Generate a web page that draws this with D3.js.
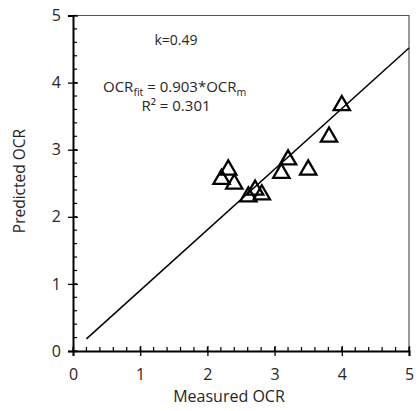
<!DOCTYPE html>
<html>
<head>
<meta charset="utf-8">
<script src="https://cdn.jsdelivr.net/npm/d3@7"></script>
<style>
  body { margin: 0; background: #fff; }
  text { font-family: "Open Sans", "Noto Sans", sans-serif; fill: #262626; }
</style>
</head>
<body>
<div id="chart"></div>
<script>
// measured vs predicted OCR
let measured  = [4.00, 3.81, 3.20, 3.10, 3.50, 2.31, 2.21, 2.40, 2.71, 2.81, 2.61];
let predicted = [3.66, 3.19, 2.85, 2.65, 2.70, 2.70, 2.56, 2.49, 2.40, 2.33, 2.30];
let ticks = [0, 1, 2, 3, 4, 5];
let slope = 0.903;
let fitRange = [0.2, 5];

let width = 416, height = 411;
let svg = d3.select('#chart').append('svg')
    .attr('width', width)
    .attr('height', height);

let x = d3.scaleLinear().domain([0, 5]).range([73, 409]);
let y = d3.scaleLinear().domain([0, 5]).range([351, 15.5]);

// frame (top / right)
svg.append('path')
    .attr('d', 'M' + x(0) + ',' + y(5) + 'H' + x(5) + 'V' + y(0))
    .attr('fill', 'none')
    .attr('stroke', '#555')
    .attr('stroke-width', 1.2);

// minor ticks, inward only
let minor = d3.range(0, 5.01, 0.2);
svg.append('g').selectAll('line').data(minor).enter().append('line')
    .attr('x1', d => x(d)).attr('x2', d => x(d))
    .attr('y1', y(0)).attr('y2', y(0) - 4)
    .attr('stroke', '#000').attr('stroke-width', 1.2);
svg.append('g').selectAll('line').data(minor).enter().append('line')
    .attr('y1', d => y(d)).attr('y2', d => y(d))
    .attr('x1', x(0)).attr('x2', x(0) + 4)
    .attr('stroke', '#000').attr('stroke-width', 1.2);

// main axes
let xAxis = d3.axisBottom(x).tickValues(ticks).tickSize(5).tickFormat(d3.format('d'));
let yAxis = d3.axisLeft(y).tickValues(ticks).tickSize(5).tickFormat(d3.format('d'));

let gx = svg.append('g').attr('transform', 'translate(0,' + y(0) + ')').call(xAxis);
let gy = svg.append('g').attr('transform', 'translate(' + x(0) + ',0)').call(yAxis);

[gx, gy].forEach(g => {
    g.select('.domain').attr('stroke', '#000').attr('stroke-width', 2);
    g.selectAll('.tick text').style('font-size', '16px').attr('fill', '#262626');
});
// major ticks cross the axis
gx.selectAll('.tick line').attr('y1', -5).attr('y2', 5).attr('stroke', '#000').attr('stroke-width', 1.3);
gx.selectAll('.tick text').attr('y', 18);
gy.selectAll('.tick line').attr('x1', 5).attr('x2', -5).attr('stroke', '#000').attr('stroke-width', 1.3);
gy.selectAll('.tick text').attr('x', -12);

// fit line
svg.append('line')
    .attr('x1', x(fitRange[0])).attr('y1', y(fitRange[0] * slope))
    .attr('x2', x(fitRange[1])).attr('y2', y(fitRange[1] * slope))
    .attr('stroke', '#000').attr('stroke-width', 1.5);

// triangle markers
let tri = d3.symbol().type(d3.symbolTriangle).size(115);
svg.append('g').selectAll('path')
    .data(measured.map((m, i) => [m, predicted[i]]))
    .enter().append('path')
    .attr('d', tri)
    .attr('transform', d => 'translate(' + x(d[0]) + ',' + y(d[1]) + ')')
    .attr('fill', 'none')
    .attr('stroke', '#000')
    .attr('stroke-width', 2.3)
    .attr('stroke-linejoin', 'miter');

// annotations
svg.append('text').attr('x', 176).attr('y', 45)
    .attr('text-anchor', 'middle').style('font-size', '14px').text('k=0.49');

let eq = svg.append('text').attr('x', 103).attr('y', 92).style('font-size', '15px');
eq.append('tspan').text('OCR');
eq.append('tspan').attr('dy', 4).style('font-size', '10.5px').text('fit');
eq.append('tspan').attr('dy', -4).text(' = 0.903*OCR');
eq.append('tspan').attr('dy', 4).style('font-size', '10.5px').text('m');

svg.append('text').attr('x', 176).attr('y', 111)
    .attr('text-anchor', 'middle').style('font-size', '15px').text('R² = 0.301');

// axis titles
svg.append('text').attr('x', 229).attr('y', 402)
    .attr('text-anchor', 'middle').style('font-size', '16px').text('Measured OCR');
svg.append('text')
    .attr('transform', 'translate(25,181) rotate(-90)')
    .attr('text-anchor', 'middle').style('font-size', '15.5px').text('Predicted OCR');
</script>
</body>
</html>
